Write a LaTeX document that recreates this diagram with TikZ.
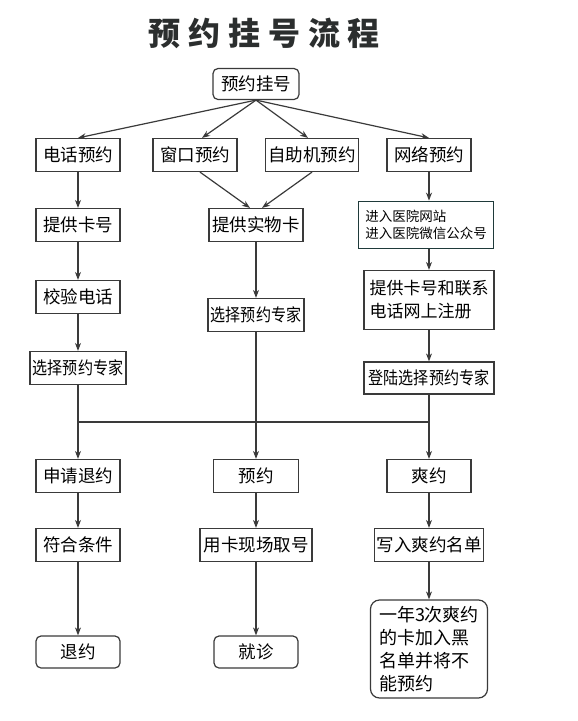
\documentclass[tikz,border=0pt]{standalone}
\usepackage{fontspec}
\setmainfont{Noto Sans CJK SC}
\newfontfamily\narrowcjk{Noto Sans CJK SC}[FakeStretch=0.86]
\usepackage{xcolor}
\usetikzlibrary{arrows.meta}
\definecolor{linegray}{HTML}{3A3A3A}
\definecolor{titlegray}{HTML}{2B2E2E}
\definecolor{darkteal}{HTML}{1F3A3A}
\tikzset{
  box/.style={draw=linegray, line width=1.2pt, fill=white, minimum height=33pt,
    inner sep=2pt, font=\fontsize{17.5}{21}\selectfont},
  narrowbox/.style={box, font=\fontsize{17.5}{21}\narrowcjk},
  endbox/.style={box, rounded corners=5pt},
  flow/.style={-{Stealth[length=8pt,width=6pt]}, draw=linegray, line width=1.2pt},
  bar/.style={draw=linegray, line width=1.2pt},
}

\begin{document}
\begin{tikzpicture}[x=1pt,y=-1pt]
\useasboundingbox (0,0) rectangle (578,721);

% Title
\node[font=\fontsize{32}{36}\selectfont\bfseries, text=titlegray] (title) at (264,33)
  {预\hspace{8pt}约\hspace{8pt}挂\hspace{8pt}号\hspace{8pt}流\hspace{8pt}程};

% Start
\node[endbox, minimum width=86pt, minimum height=31pt] (start) at (256,84) {预约挂号};

% Ways to book
\node[box, minimum width=84pt] (phone) at (78,155) {电话预约};
\node[box, minimum width=84pt] (window) at (195,155) {窗口预约};
\node[box, minimum width=93pt] (kiosk) at (312,155) {自助机预约};
\node[box, minimum width=84pt] (net) at (429,155) {网络预约};

\draw[flow] (start.south) -- (phone.north);
\draw[flow] (start.south) -- ([xshift=7pt]window.north);
\draw[flow] (start.south) -- ([xshift=-4pt]kiosk.north);
\draw[flow] (start.south) -- (net.north);

% Phone column
\node[box, minimum width=84pt] (card) at (78,225) {提供卡号};
\node[box, minimum width=84pt] (verify) at (78,297) {校验电话};
\node[narrowbox, minimum width=96pt] (lsel) at (78,368) {选择预约专家};
\draw[flow] (phone) -- (card);
\draw[flow] (card) -- (verify);
\draw[flow] (verify) -- (lsel);

% Window / kiosk column
\node[box, minimum width=94pt] (physical) at (256,225) {提供实物卡};
\node[narrowbox, minimum width=96pt] (msel) at (256,315) {选择预约专家};
\draw[flow] ([xshift=5pt]window.south) -- ([xshift=-6pt]physical.north);
\draw[flow] (kiosk.south) -- ([xshift=6pt]physical.north);
\draw[flow] (physical) -- (msel);

% Web column
\node[box, draw=darkteal, line width=1.8pt, minimum width=135pt, minimum height=47pt,
  align=left, font=\fontsize{13.5}{17}\selectfont] (web) at (426,225)
  {进入医院网站\\进入医院微信公众号};
\node[box, minimum width=130pt, minimum height=59pt, align=left,
  font=\fontsize{17}{23}\selectfont] (reg) at (429,300)
  {提供卡号和联系\\电话网上注册};
\node[narrowbox, minimum width=130pt, minimum height=32pt] (rsel) at (429,378) {登陆选择预约专家};
\draw[flow] (net.south) -- (net.south |- web.north);
\draw[flow] (net.south |- web.south) -- (reg.north);
\draw[flow] (reg) -- (rsel);

% Join line
\coordinate (jl) at (78,422);
\coordinate (jr) at (429,422);
\draw[bar] (jl) -- (jr);

% Results
\node[box, minimum width=84pt] (apply) at (78,476) {申请退约};
\node[box, minimum width=85pt] (book) at (256,476) {预约};
\node[box, minimum width=84pt] (miss) at (429,476) {爽约};
\draw[flow] (lsel) -- (apply);
\draw[flow] (msel) -- (book);
\draw[flow] (rsel) -- (miss);

\node[box, minimum width=84pt] (cond) at (78,545) {符合条件};
\node[box, minimum width=112pt] (take) at (256,545) {用卡现场取号};
\node[box, minimum width=107pt] (list) at (429,545) {写入爽约名单};
\draw[flow] (apply) -- (cond);
\draw[flow] (book) -- (take);
\draw[flow] (miss) -- (list);

% Ends
\node[endbox, minimum width=84pt, minimum height=32pt] (cancel) at (78,652) {退约};
\node[endbox, minimum width=84pt, minimum height=32pt] (visit) at (256,652) {就诊};
\node[endbox, minimum width=117pt, minimum height=98pt, align=left,
  font=\fontsize{18}{23}\selectfont, rounded corners=9pt] (black) at (429,649)
  {一年3次爽约\\的卡加入黑\\名单并将不\\能预约};
\draw[flow] (cond) -- (cancel);
\draw[flow] (take) -- (visit);
\draw[flow] (list) -- (black);
\end{tikzpicture}
\end{document}
